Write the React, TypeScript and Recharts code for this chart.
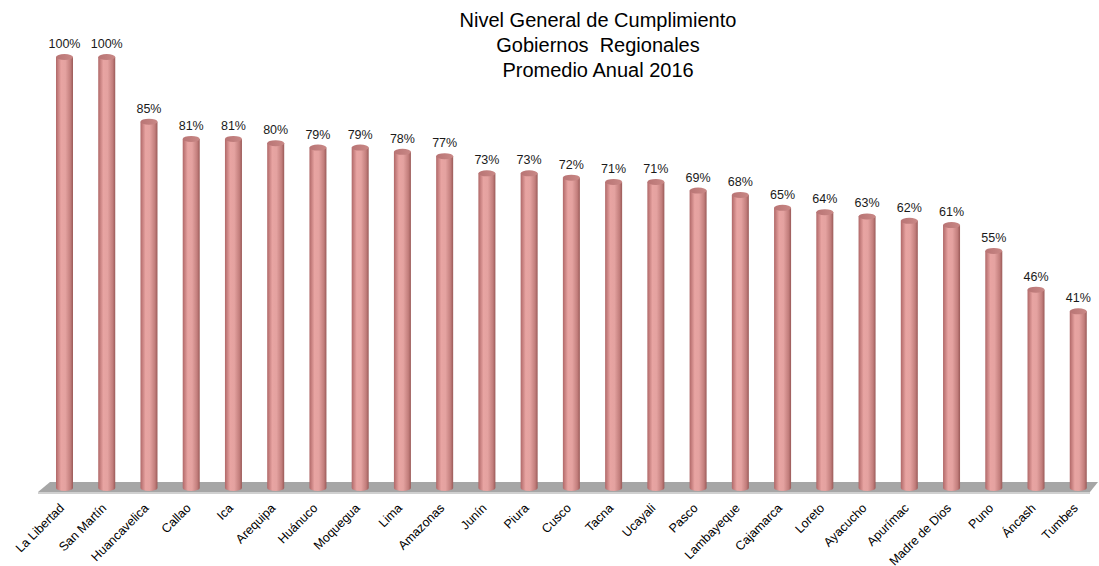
import { BarChart, Bar, XAxis, YAxis, LabelList, ReferenceArea } from 'recharts'

const regiones = [
  'La Libertad', 'San Martín', 'Huancavelica', 'Callao', 'Ica', 'Arequipa', 'Huánuco',
  'Moquegua', 'Lima', 'Amazonas', 'Junín', 'Piura', 'Cusco', 'Tacna', 'Ucayali', 'Pasco',
  'Lambayeque', 'Cajamarca', 'Loreto', 'Ayacucho', 'Apurímac', 'Madre de Dios', 'Puno',
  'Áncash', 'Tumbes',
]
const cumplimiento = [100, 100, 85, 81, 81, 80, 79, 79, 78, 77, 73, 73, 72, 71, 71, 69, 68, 65, 64, 63, 62, 61, 55, 46, 41]
const tituloLineas = ['Nivel General de Cumplimiento', 'Gobiernos  Regionales', 'Promedio Anual 2016']

const data = regiones.map((region, i) => ({ region, valor: cumplimiento[i] }))

const FONT = 'Arial, "Liberation Sans", sans-serif'

// cilindro: cuerpo con degradado + elipse arriba y abajo
function Cilindro(props: any) {
  const { x, y, width, height } = props
  if (height == null || height <= 0) return null
  const rx = width / 2
  const ry = 3
  const cx = x + rx
  return (
    <g>
      <path
        d={`M${x},${y} L${x},${y + height} A${rx},${ry} 0 0 0 ${x + width},${y + height} L${x + width},${y} Z`}
        fill="url(#cuerpo)"
      />
      <ellipse cx={cx} cy={y} rx={rx} ry={ry} fill="url(#tapa)" />
    </g>
  )
}

function Piso(props: any) {
  const { x, y, width, height } = props
  const top = y
  const bot = y + height - 2
  return (
    <g>
      <polygon
        points={`${x + 7},${top} ${x + width - 1},${top} ${x + width - 9},${bot} ${x - 5},${bot}`}
        fill="#a6a6a6"
      />
      <polygon
        points={`${x - 5},${bot} ${x + width - 9},${bot} ${x + width - 9},${bot + 2} ${x - 5},${bot + 2}`}
        fill="#d0d0d0"
      />
    </g>
  )
}

function TickRegion(props: any) {
  const { x, y, payload } = props
  const tx = x - 2
  return (
    <text
      x={tx}
      y={y}
      transform={`rotate(-45 ${tx} ${y})`}
      textAnchor="end"
      dominantBaseline="central"
      fontSize={12.5}
      fontFamily={FONT}
      fill="#000"
    >
      {payload.value}
    </text>
  )
}

function Etiqueta(props: any) {
  const { x, y, width, value } = props
  return (
    <text x={x + width / 2} y={y - 9} textAnchor="middle" fontSize={12.5} fontFamily={FONT} fill="#1a1a1a">
      {value}%
    </text>
  )
}

export default function App() {
  return (
    <div style={{ position: 'absolute', left: 0, top: 0, width: 1099, height: 566, background: '#fff' }}>
      <div
        style={{
          position: 'absolute',
          left: 0,
          width: 1196,
          top: 8,
          textAlign: 'center',
          fontFamily: FONT,
          fontSize: 20,
          lineHeight: '25px',
          color: '#000',
          whiteSpace: 'pre',
        }}
      >
        {tituloLineas.map((t) => (
          <div key={t}>{t}</div>
        ))}
      </div>
      <BarChart width={1099} height={566} data={data} margin={{ top: 57, right: 0, left: 43, bottom: 0 }} barSize={17}>
        <defs>
          <linearGradient id="cuerpo" x1="0" y1="0" x2="1" y2="0">
            <stop offset="0" stopColor="#b06868" />
            <stop offset="0.3" stopColor="#e8a4a2" />
            <stop offset="0.55" stopColor="#e4a2a0" />
            <stop offset="0.85" stopColor="#c27e7c" />
            <stop offset="1" stopColor="#9a5a58" />
          </linearGradient>
          <linearGradient id="tapa" x1="0" y1="0" x2="1" y2="0">
            <stop offset="0" stopColor="#b87474" />
            <stop offset="1" stopColor="#c98886" />
          </linearGradient>
        </defs>
        <XAxis dataKey="region" interval={0} axisLine={false} tickLine={false} height={78} tick={<TickRegion />} tickMargin={12} />
        <YAxis hide domain={[0, 100]} />
        <ReferenceArea y1={-1.4} y2={1.4} ifOverflow="visible" shape={<Piso />} />
        <Bar dataKey="valor" shape={<Cilindro />} isAnimationActive={false}>
          <LabelList dataKey="valor" content={<Etiqueta />} />
        </Bar>
      </BarChart>
    </div>
  )
}
